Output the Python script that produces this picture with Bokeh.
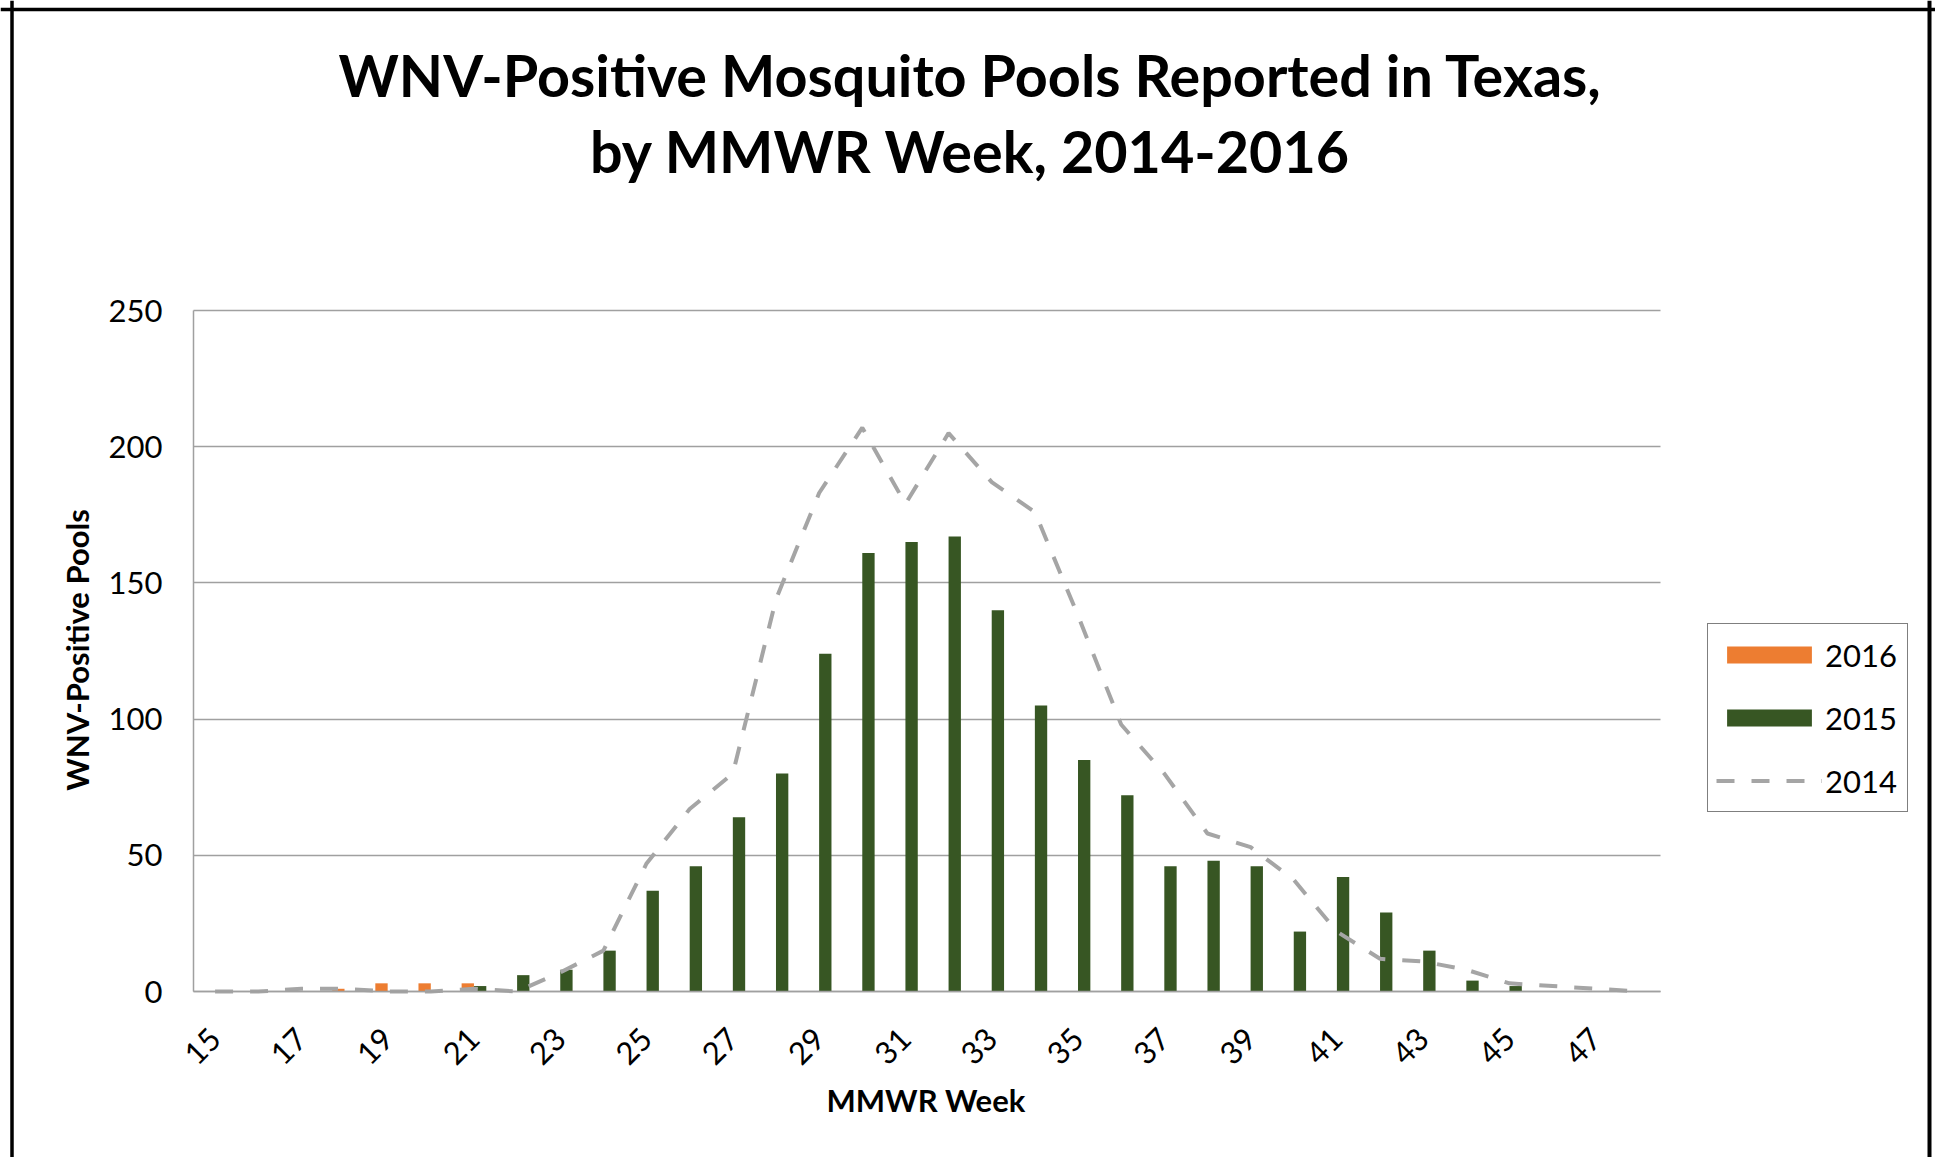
import math
from bokeh.plotting import figure
from bokeh.models import (ColumnDataSource, FixedTicker, Legend, LegendItem,
                          Range1d, Label, Span)
from bokeh.transform import dodge
from bokeh.embed import file_html
from bokeh.resources import INLINE

# ---------------- data ----------------
weeks = list(range(15, 49))
weeks_2016 = [15, 16, 17, 18, 19, 20, 21]
pools_2016 = [0, 0, 0, 1, 3, 3, 3]
pools_2015 = [0, 0, 0, 0, 0, 0, 2, 6, 8, 15, 37, 46, 64, 80, 124, 161, 165, 167,
              140, 105, 85, 72, 46, 48, 46, 22, 42, 29, 15, 4, 2, 0, 0, 0]
pools_2014 = [0, 0, 1, 1, 0, 0, 1, 0, 7, 15, 47, 67, 80, 144, 183, 207, 179, 205,
              187, 176, 138, 98, 80, 58, 53, 41, 22, 12, 11, 8, 3, 2, 1, 0]
x_tick_weeks = list(range(15, 48, 2))
y_ticks = [0, 50, 100, 150, 200, 250]

title_lines = ["WNV-Positive Mosquito Pools Reported in Texas,",
               "by MMWR Week, 2014-2016"]
x_title = "MMWR Week"
y_title = "WNV-Positive Pools"

C16 = "#ED7D31"
C15 = "#375623"
C14 = "#A5A5A5"
GRID = "#A0A0A0"
FONT = "Lato"

# ---------------- layout (canvas pixels) ----------------
W, H = 1935, 1157
PX_L, PX_R, PX_T, PX_B = 193, 1660, 310, 991      # plot area inside canvas
X_MIN, X_MAX = 14.5, 48.5
Y_MIN, Y_MAX = 0, 250
sx = (X_MAX - X_MIN) / (PX_R - PX_L)
sy = (Y_MAX - Y_MIN) / (PX_B - PX_T)
x_start, x_end = X_MIN - PX_L * sx, X_MAX + (W - PX_R) * sx
y_start, y_end = Y_MIN - (H - PX_B) * sy, Y_MAX + PX_T * sy


def xd(c):
    return x_start + c * sx


def yd(c):
    return y_end - c * sy


p = figure(width=W, height=H, output_backend="svg", toolbar_location=None,
           title=None,
           x_range=Range1d(x_start, x_end), y_range=Range1d(y_start, y_end),
           min_border=0, min_border_left=0, min_border_right=0,
           min_border_top=0, min_border_bottom=0)
p.outline_line_color = None
p.background_fill_color = "white"
p.border_fill_color = "white"

src16 = ColumnDataSource(dict(week=weeks_2016, pools=pools_2016))
src15 = ColumnDataSource(dict(week=weeks, pools=pools_2015))
src14 = ColumnDataSource(dict(week=weeks, pools=pools_2014))

# horizontal gridlines, only across the plot area
grid = p.ygrid[0]
p.xgrid.visible = False
if "cross_bounds" in grid.properties():
    grid.ticker = FixedTicker(ticks=y_ticks)
    grid.bounds = (Y_MIN, Y_MAX)
    grid.cross_bounds = (X_MIN, X_MAX)
    grid.grid_line_color = GRID
    grid.grid_line_width = 1.5
else:
    grid.visible = False
    p.segment(x0=[X_MIN] * len(y_ticks), x1=[X_MAX] * len(y_ticks),
              y0=y_ticks, y1=y_ticks, line_color=GRID, line_width=1.5)

bw = 0.286
r16 = p.vbar(x=dodge("week", -bw / 2), top="pools", width=bw, source=src16,
             fill_color=C16, line_color=None)
r15 = p.vbar(x=dodge("week", bw / 2), top="pools", width=bw, source=src15,
             fill_color=C15, line_color=None)
r14 = p.line("week", "pools", source=src14, line_color=C14, line_width=4,
             line_dash="18 17", line_cap="butt")

# axes drawn at fixed data locations
p.xaxis.fixed_location = Y_MIN
p.yaxis.fixed_location = X_MIN
p.xaxis.bounds = (X_MIN, X_MAX)
p.yaxis.bounds = (Y_MIN, Y_MAX)
p.xaxis.ticker = FixedTicker(ticks=x_tick_weeks)
p.xaxis.major_label_orientation = math.pi / 4
p.yaxis.ticker = FixedTicker(ticks=y_ticks)
for ax in (p.xaxis, p.yaxis):
    ax.major_tick_line_color = None
    ax.minor_tick_line_color = None
    ax.axis_line_color = "#A0A0A0"
    ax.axis_line_width = 1.5
    ax.major_label_text_font = FONT
    ax.major_label_text_font_size = "31px"
    ax.major_label_text_color = "black"
p.xaxis.major_label_standoff = 36
p.yaxis.major_label_standoff = 25

# titles
for txt, cy in zip(title_lines, [73.5, 150]):
    p.add_layout(Label(x=xd(970), y=yd(cy), text=txt, text_align="center",
                       text_baseline="middle", text_font=FONT,
                       text_font_style="bold", text_font_size="57.5px",
                       text_color="black"))
p.add_layout(Label(x=xd(925.5), y=yd(1099), text=x_title, text_align="center",
                   text_baseline="middle", text_font=FONT, text_font_style="bold",
                   text_font_size="31px", text_color="black"))
p.add_layout(Label(x=xd(76), y=yd(649.5), text=y_title, text_align="center",
                   text_baseline="middle", angle=math.pi / 2, text_font=FONT,
                   text_font_style="bold", text_font_size="31px",
                   text_color="black"))

# legend
legend = Legend(items=[LegendItem(label="2016", renderers=[r16]),
                       LegendItem(label="2015", renderers=[r15]),
                       LegendItem(label="2014", renderers=[r14])],
                location=(1707, H - 812))
legend.glyph_width = 106
legend.glyph_height = 21
legend.label_text_font = FONT
legend.label_text_font_size = "31px"
legend.label_text_color = "black"
legend.label_standoff = 3
legend.label_width = 74
legend.label_height = 45
legend.padding = 8
legend.spacing = 18
legend.margin = 0
legend.border_line_color = "black"
legend.border_line_width = 1.5
legend.background_fill_color = "white"
legend.background_fill_alpha = 1.0
p.add_layout(legend)

# outer chart border (left, top, right)
p.add_layout(Span(location=xd(11.5), dimension="height", line_color="black", line_width=3.5))
p.add_layout(Span(location=xd(1929), dimension="height", line_color="black", line_width=4))
p.add_layout(Span(location=yd(9), dimension="width", line_color="black", line_width=3.5))

open("out.html", "w").write(file_html(p, INLINE))
